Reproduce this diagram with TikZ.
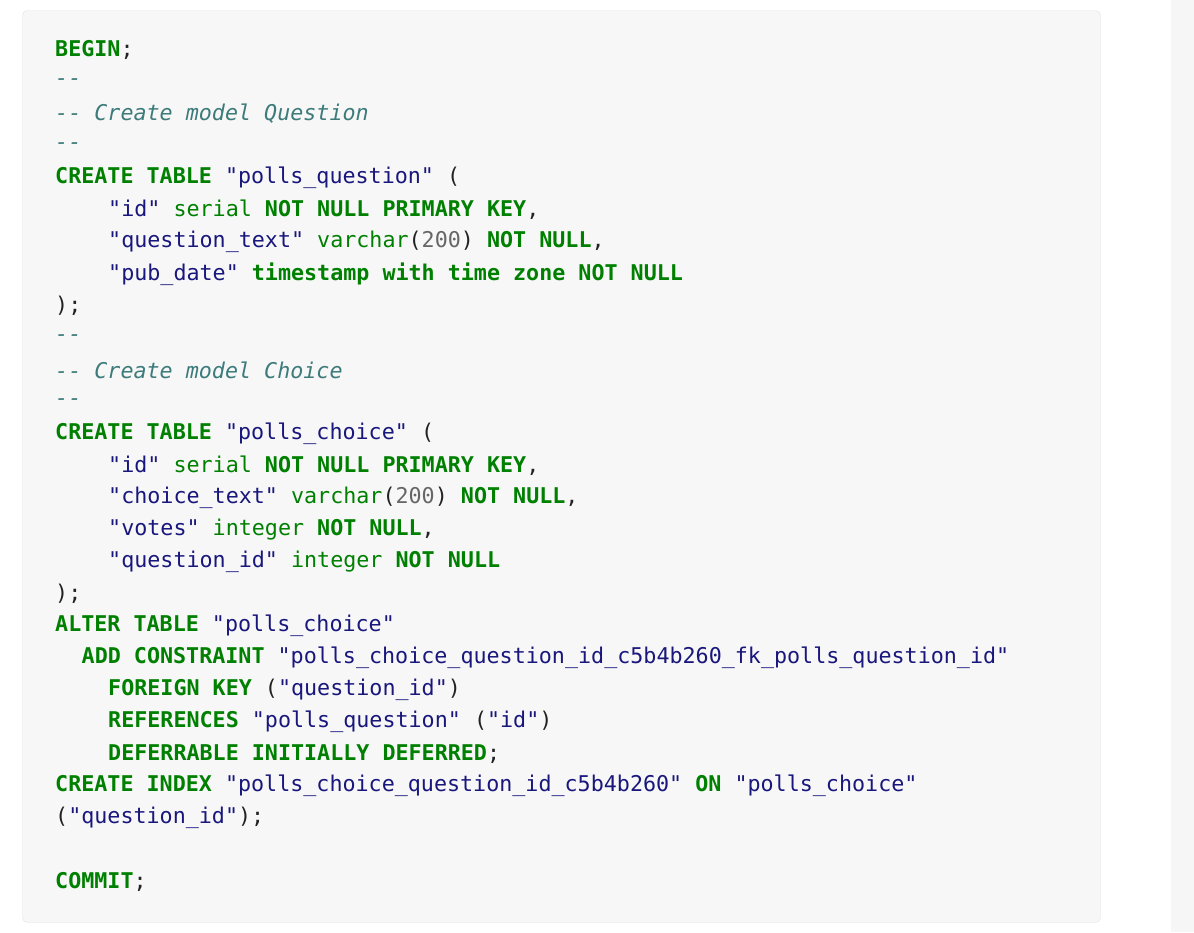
\documentclass[tikz,border=0pt]{standalone}
\usepackage{fontspec}
\newfontfamily\cf{DejaVu Sans Mono}
\definecolor{kw}{HTML}{008000}
\definecolor{st}{HTML}{19177C}
\definecolor{cm}{HTML}{3D7B7B}
\definecolor{nm}{HTML}{666666}
\definecolor{pn}{HTML}{222222}
\newcommand{\K}[1]{\textcolor{kw}{\bfseries #1}}
\newcommand{\Sx}[1]{\textcolor{st}{#1}}
\newcommand{\Tx}[1]{\textcolor{kw}{#1}}
\newcommand{\Nx}[1]{\textcolor{nm}{#1}}
\newcommand{\Cx}[1]{\textcolor{cm}{\itshape #1}}
\tikzset{ln/.style={anchor=west,inner sep=0pt,font=\cf\fontsize{21.7}{26}\selectfont,text=pn}}
\begin{document}
\begin{tikzpicture}[x=1pt,y=-1pt]
\useasboundingbox (0,0) rectangle (1194,932);
\fill[white] (0,0) rectangle (1194,932);
\fill[gray!7] (1171,0) rectangle (1194,932);
\draw[fill=black!3,draw=black!11,rounded corners=5pt] (22.5,10.5) rectangle (1100.5,922.5);
\def\a{55}\def\b{108}\def\c{81.5}
\node[ln] (l0) at (\a,50) {\K{BEGIN};};
\node[ln] (l1) at (\a,82) {\Cx{-{}-}};
\node[ln] (l2) at (\a,114) {\Cx{-{}- Create model Question}};
\node[ln] (l3) at (\a,146) {\Cx{-{}-}};
\node[ln] (l4) at (\a,178) {\K{CREATE TABLE} \Sx{"polls\_question"} (};
\node[ln] (l5) at (\b,210) {\Sx{"id"} \Tx{serial} \K{NOT NULL PRIMARY KEY},};
\node[ln] (l6) at (\b,242) {\Sx{"question\_text"} \Tx{varchar}(\Nx{200}) \K{NOT NULL},};
\node[ln] (l7) at (\b,274) {\Sx{"pub\_date"} \K{timestamp with time zone NOT NULL}};
\node[ln] (l8) at (\a,306) {);};
\node[ln] (l9) at (\a,338) {\Cx{-{}-}};
\node[ln] (l10) at (\a,370) {\Cx{-{}- Create model Choice}};
\node[ln] (l11) at (\a,402) {\Cx{-{}-}};
\node[ln] (l12) at (\a,434) {\K{CREATE TABLE} \Sx{"polls\_choice"} (};
\node[ln] (l13) at (\b,466) {\Sx{"id"} \Tx{serial} \K{NOT NULL PRIMARY KEY},};
\node[ln] (l14) at (\b,498) {\Sx{"choice\_text"} \Tx{varchar}(\Nx{200}) \K{NOT NULL},};
\node[ln] (l15) at (\b,530) {\Sx{"votes"} \Tx{integer} \K{NOT NULL},};
\node[ln] (l16) at (\b,562) {\Sx{"question\_id"} \Tx{integer} \K{NOT NULL}};
\node[ln] (l17) at (\a,594) {);};
\node[ln] (l18) at (\a,626) {\K{ALTER TABLE} \Sx{"polls\_choice"}};
\node[ln] (l19) at (\c,658) {\K{ADD CONSTRAINT} \Sx{"polls\_choice\_question\_id\_c5b4b260\_fk\_polls\_question\_id"}};
\node[ln] (l20) at (\b,690) {\K{FOREIGN KEY} (\Sx{"question\_id"})};
\node[ln] (l21) at (\b,722) {\K{REFERENCES} \Sx{"polls\_question"} (\Sx{"id"})};
\node[ln] (l22) at (\b,754) {\K{DEFERRABLE INITIALLY DEFERRED};};
\node[ln] (l23) at (\a,786) {\K{CREATE INDEX} \Sx{"polls\_choice\_question\_id\_c5b4b260"} \K{ON} \Sx{"polls\_choice"}};
\node[ln] (l24) at (\a,818) {(\Sx{"question\_id"});};
\node[ln] (l26) at (\a,882) {\K{COMMIT};};
\end{tikzpicture}
\end{document}
